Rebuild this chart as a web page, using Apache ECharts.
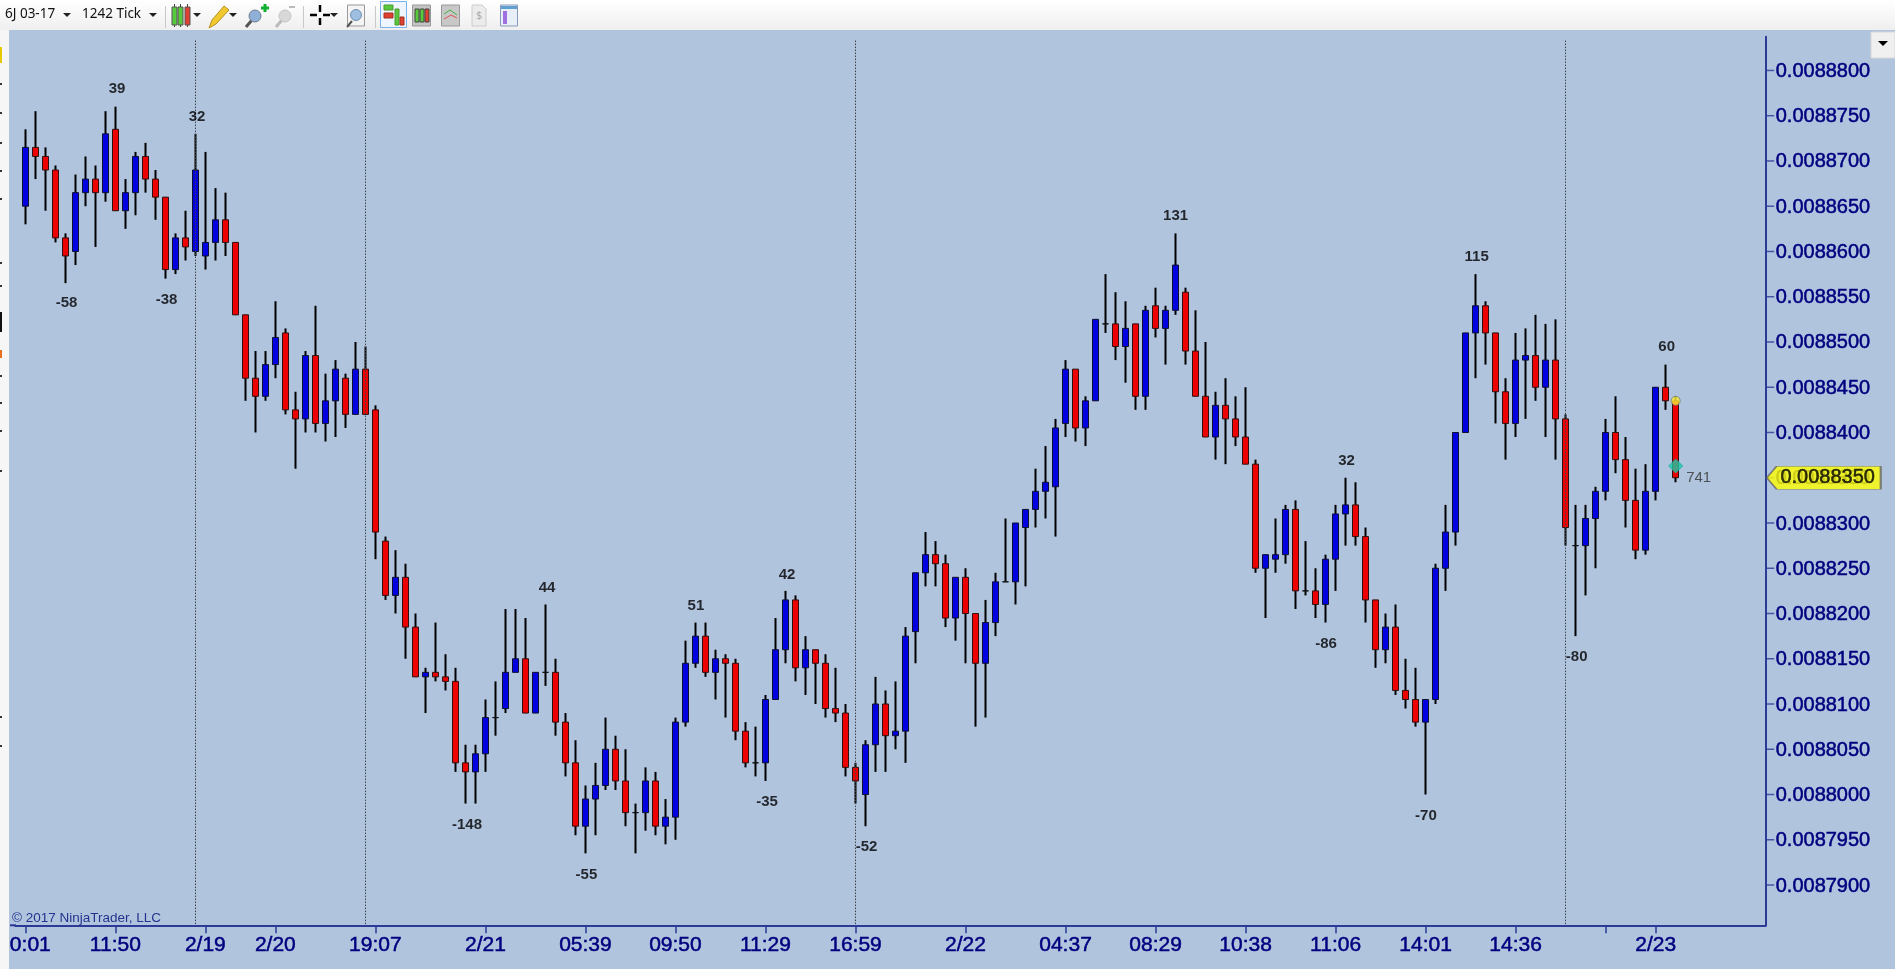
<!DOCTYPE html>
<html><head><meta charset="utf-8">
<style>html,body{margin:0;padding:0;background:#f6f6f6;overflow:hidden}#c{width:1895px;height:969px}</style>
<script src="https://cdn.jsdelivr.net/npm/echarts@6/dist/echarts.min.js"></script>
</head><body><div id="c"></div>
<script>
// Prices in units of 0.0000001 (88350 = 0.0088350)
const opens=[88650,88715,88705,88690,88615,88600,88665,88680,88665,88735,88645,88665,88705,88680,88660,88580,88615,88600,88595,88610,88635,88610,88530,88460,88440,88475,88510,88425,88415,88485,88410,88435,88460,88420,88470,88425,
88280,88220,88240,88185,88130,88135,88130,88125,88035,88025,88045,88085,88095,88135,88150,88090,88135,88135,88080,88035,87965,87995,88010,88050,88015,87980,
87980,88015,87965,87975,88080,88145,88175,88135,88150,88145,88070,88035,88035,88105,88160,88215,88140,88160,88145,88095,88090,88030,88000,88055,88100,88065,88070,88180,88245,88265,88255,88195,88240,88200,88145,88190,
88235,88235,88295,88315,88335,88340,88410,88470,88405,88435,88520,88520,88495,88520,88440,88540,88515,88535,88555,88490,88440,88395,88430,88415,88395,88365,88250,88260,88265,88315,88225,88225,88210,88260,88310,88320,88285,
88215,88160,88185,88115,88105,88080,88105,88250,88290,88400,88510,88540,88510,88445,88410,88480,88485,88450,88480,88415,88275,88275,88305,88335,88400,88370,88325,88270,88335,88450,88435];
const closes=[88715,88705,88690,88615,88595,88665,88680,88665,88730,88645,88665,88705,88680,88660,88580,88615,88605,88690,88610,88635,88610,88530,88460,88440,88475,88505,88425,88415,88485,88410,88435,88470,88420,88470,88420,88290,
88220,88240,88185,88130,88135,88130,88125,88035,88025,88045,88085,88085,88135,88150,88090,88135,88135,88080,88035,87965,87995,88010,88050,88015,87980,87980,
88015,87965,87975,88080,88145,88175,88135,88150,88145,88070,88035,88035,88105,88160,88215,88140,88160,88145,88095,88090,88030,88015,88055,88100,88065,88070,88175,88245,88265,88255,88195,88240,88200,88145,88190,88235,
88235,88300,88315,88335,88345,88405,88470,88405,88435,88525,88520,88495,88515,88440,88535,88515,88535,88585,88490,88440,88395,88430,88415,88395,88365,88250,88265,88265,88315,88225,88225,88210,88260,88310,88320,88285,88215,
88160,88185,88115,88105,88080,88105,88250,88290,88400,88510,88540,88510,88445,88410,88480,88485,88450,88480,88415,88295,88275,88305,88335,88400,88370,88325,88270,88335,88450,88435,88350];
const lows=[88630,88680,88645,88610,88565,88585,88650,88605,88655,88645,88625,88640,88665,88635,88570,88575,88590,88595,88580,88590,88595,88530,88435,88400,88435,88460,88420,88360,88400,88400,88390,88395,88405,88420,88420,88260,
88215,88200,88150,88130,88090,88125,88115,88025,87990,87990,88025,88065,88090,88135,88090,88090,88120,88065,88020,87955,87935,87955,88005,88005,87965,87935,
87960,87955,87945,87950,88075,88140,88130,88105,88085,88060,88030,88020,88015,88105,88145,88125,88110,88100,88085,88080,88020,87990,87965,88025,88025,88050,88035,88145,88230,88230,88185,88170,88145,88075,88085,88175,
88235,88210,88230,88295,88305,88285,88395,88390,88385,88435,88510,88480,88455,88425,88425,88505,88475,88530,88475,88440,88395,88370,88365,88385,88365,88245,88195,88245,88255,88205,88220,88195,88190,88225,88275,88275,88190,
88140,88145,88110,88095,88075,88000,88100,88225,88275,88400,88460,88475,88410,88370,88395,88415,88435,88395,88370,88275,88175,88220,88250,88325,88355,88295,88260,88265,88325,88425,88345];
const highs=[88735,88755,88715,88695,88620,88685,88705,88695,88755,88760,88680,88710,88720,88690,88660,88620,88645,88730,88710,88670,88665,88610,88530,88490,88490,88545,88515,88445,88490,88540,88465,88480,88465,88500,88495,88430,
88285,88270,88255,88200,88140,88190,88155,88140,88055,88055,88105,88125,88205,88205,88195,88135,88210,88150,88090,88060,88010,88035,88085,88065,88050,87990,
88030,88025,87995,88085,88170,88190,88190,88160,88155,88150,88080,88075,88110,88195,88225,88220,88175,88160,88155,88140,88100,88035,88060,88130,88115,88125,88185,88245,88290,88280,88265,88240,88250,88200,88215,88245,
88305,88300,88315,88360,88385,88415,88480,88470,88440,88525,88575,88555,88545,88520,88540,88560,88540,88620,88560,88535,88500,88445,88460,88440,88450,88370,88265,88305,88320,88325,88280,88250,88265,88320,88350,88345,88295,
88215,88200,88210,88150,88140,88105,88255,88320,88400,88510,88575,88545,88510,88460,88510,88515,88530,88520,88525,88420,88320,88320,88340,88415,88440,88395,88360,88365,88450,88475,88440];

const tickBars=[0,9,18,25,35,46,56,65,74,83,94,104,113,122,131,140,149,158,163];
const tickLabels=['0:01','11:50','2/19','2/20','19:07','2/21','05:39','09:50','11:29','16:59','2/22','04:37','08:29','10:38','11:06','14:01','14:36','','2/23'];
const priceTicks=[87900,87950,88000,88050,88100,88150,88200,88250,88300,88350,88400,88450,88500,88550,88600,88650,88700,88750,88800];
const sessionBars=[17,34,83,154];
const swingText=['39','32','-58','-38','-148','44','-55','51','42','-35','-52','131','32','115','-86','-80','60','-70'];
const swingBar=[9.17,17.17,4.12,14.12,44.16,52.16,56.1,67.05,76.15,74.15,84.1,115,132.1,145.1,130.05,155.1,164.1,140.03];
const swingPrice=[88781,88750,88544,88548,87968,88229,87912,88209,88244,87993,87943,88641,88370,88595,88168,88153,88496,87978];
const lastPrice=88350, lastVolume='741', entryPrice=88435, markPrice=88363;

const PRICE_MIN=87855.5, PRICE_MAX=88837.3, LINE_TOP=88833;
const N=opens.length, SLOTS=175;
const cats=[]; for(let s=0;s<=SLOTS;s++)cats.push(String(s));
const labelOf={}; tickBars.forEach((b,i)=>labelOf[b+1]=tickLabels[i]);
const tickSet=new Set(tickBars.map(b=>b+1));
const blank=['-','-','-','-'];
const wick=[blank],body=[blank];
for(let i=0;i<N;i++){
  wick.push([opens[i],closes[i],lows[i],highs[i]]);
  body.push([opens[i],closes[i],Math.min(opens[i],closes[i]),Math.max(opens[i],closes[i])]);
}
const fmt=v=>(v/1e7).toFixed(7);
const NAVY='#00007f', AX='#2a3a96';

// toolbar decoration
const g=[];
const R=(x,y,w,h,fill,stroke,extra)=>g.push(Object.assign({type:'rect',shape:{x,y,width:w,height:h},style:{fill,stroke:stroke||null,lineWidth:1},silent:true},extra||{}));
const P=(pts,fill,stroke)=>g.push({type:'polygon',shape:{points:pts},style:{fill,stroke:stroke||null,lineWidth:1},silent:true});
const L=(x1,y1,x2,y2,stroke,w)=>g.push({type:'line',shape:{x1,y1,x2,y2},style:{stroke,lineWidth:w||1},silent:true});
const C=(cx,cy,r,fill,stroke)=>g.push({type:'circle',shape:{cx,cy,r},style:{fill,stroke:stroke||null,lineWidth:1},silent:true});
const T=(x,y,text,size,fill,font)=>g.push({type:'text',x,y,style:{text,fontSize:size,fontFamily:font||'Noto Sans',fill,textVerticalAlign:'middle',textBaseline:'middle'},silent:true});
const tri=(x,y)=>P([[x-4,y-2],[x+4,y-2],[x,y+2]],'#222');
R(0,0,1895,30,{type:'linear',x:0,y:0,x2:0,y2:1,colorStops:[{offset:0,color:'#ffffff'},{offset:1,color:'#efefef'}]});
R(9,30,1886,939,'#b0c4de');
R(0,30,9,939,'#f6f6f6');
[83,112,142,170,198,262,285,350,375,402,430,470,716,745].forEach(y=>R(0,y,2,2,'#333'));
R(0,47,2,16,'#e8c800'); R(0,312,2,20,'#111'); R(0,350,2,8,'#e87020');
L(10,925.3,16,925.3,AX,2);
T(5,14,'6J 03-17',13.5,'#111'); T(82,14,'1242 Tick',13.5,'#111'); tri(67,15); tri(153,15);
L(165.5,6,165.5,28,'#c8c8c8');
[[172,'#58c83c'],[178,'#58c83c'],[185,'#e04030']].forEach(a=>{L(a[0]+2.5,4,a[0]+2.5,27,'#444');R(a[0],7,5,18,a[1],'#555');});
tri(197,15);
P([[209,28],[212,20],[224,6],[229,10],[216,24]],'#f0c830','#b89020'); tri(233,15);
L(246,27,252,20,'#555',3); C(255,16,6,'#8fb0d8','#708090');
L(265,4,265,12,'#10b030',3); L(261,8,269,8,'#10b030',3);
L(276,27,282,20,'#bbb',3); C(285,16,6,'#d8d8d8','#c4c4c4'); L(289,7,295,7,'#bbb',2);
L(303.5,6,303.5,28,'#c8c8c8');
L(310,15,317,15,'#000',2.5);L(323,15,330,15,'#000',2.5);L(320,5,320,12,'#000',2.5);L(320,18,320,25,'#000',2.5);tri(334,15);
R(347.5,5,17,21,'#f4f4f4','#999'); L(347,27,352,21,'#555',2); C(356,15,5.5,'#9fbfe0','#7090b0');
L(375.5,6,375.5,28,'#c8c8c8');
R(380.5,1.5,26,26,'#eef5fd','#7ab0ee');
R(384,5,9,5,'#58c83c','#4a9a30');R(384,13,9,5,'#e04030','#a03020');R(395,9,4,16,'#58c83c','#4a9a30');R(400,17,4,8,'#e04030','#a03020');
R(412.5,5,18,21,'#c4c4c4','#999');[[415,'#58c83c'],[420,'#58c83c'],[425,'#e04030']].forEach(a=>R(a[0],9,4,13,a[1],'#444'));
R(441.5,5,18,21,'#c8c8c8','#999');L(444,14,450,10,'#40b040');L(450,10,457,15,'#40b040');L(444,19,451,15,'#e05050');L(451,15,457,18,'#e05050');
P([[472,5],[482,5],[486,9],[486,26],[472,26]],'#ececec','#ccc');T(476,16,'$',11,'#aaa');
R(500.5,5,17,21,'#e8eef6','#8899bb');R(501,6,16,3,'#60a0d0');R(503,11,4,13,'#a070e0');
R(1871,32,24,26,'#f0f0f0','#d8d8d8');P([[1878,41],[1888,41],[1883,46]],'#000');
T(12,918,'\u00a9 2017 NinjaTrader, LLC',13.5,'#24348e','Liberation Sans');

const xFont={color:NAVY,fontFamily:'Liberation Sans',fontSize:21,textBorderColor:NAVY,textBorderWidth:0.5};
const yFont={color:NAVY,fontFamily:'Liberation Sans',fontSize:20,textBorderColor:NAVY,textBorderWidth:0.5};
const option={
 animation:false,
 graphic:{elements:g},
 grid:{left:15.3,right:129.3,top:36.7,bottom:43.7,containLabel:false},
 xAxis:[{type:'category',data:cats,boundaryGap:false,position:'bottom',
   axisLine:{onZero:false,lineStyle:{color:AX,width:2}},
   axisTick:{interval:i=>tickSet.has(i),length:8,lineStyle:{color:AX,width:1.5}},
   axisLabel:Object.assign({interval:i=>tickSet.has(i),
     formatter:v=>v==='1'?'{first|'+labelOf[v]+'}':(labelOf[v]||''),
     rich:{first:Object.assign({padding:[0,0,0,10]},xFont)},margin:9,hideOverlap:false},xFont),
   splitLine:{show:false}},
  {type:'value',min:0,max:SLOTS,show:false,splitLine:{show:false}}],
 yAxis:{type:'value',position:'right',min:PRICE_MIN,max:PRICE_MAX,scale:true,
   axisLine:{show:true,onZero:false,lineStyle:{color:AX,width:2}},
   axisTick:{show:false},
   axisLabel:Object.assign({customValues:priceTicks,formatter:v=>'{p|'+fmt(v)+'}',margin:10,
     rich:{p:Object.assign({padding:[2,0,0,0]},yFont)}},yFont),
   splitLine:{show:false}},
 series:[
  {name:'priceTicks',type:'scatter',xAxisIndex:1,z:2,clip:false,symbol:'rect',symbolSize:[8,1.5],
   data:priceTicks.map(p=>[SLOTS+0.45,p]),itemStyle:{color:AX}},
  {name:'wick',type:'candlestick',data:wick,barWidth:0.5,clip:false,z:3,
   itemStyle:{color:'#000',color0:'#000',borderColor:'#000',borderColor0:'#000',borderColorDoji:'#000',borderWidth:2}},
  {name:'body',type:'candlestick',data:body,barWidth:6,clip:false,z:4,
   itemStyle:{color:'#0000e0',color0:'#ee0000',borderColor:'#101030',borderColor0:'#301010',borderColorDoji:'#111',borderWidth:1}},
  {name:'swings',type:'scatter',xAxisIndex:1,symbolSize:0,z:5,clip:false,
   data:swingText.map((t,i)=>({value:[swingBar[i]+1,swingPrice[i]],label:{formatter:t}})),
   label:{show:true,position:'inside',offset:[0,1],color:'#000',fontFamily:'Liberation Sans',fontSize:15,fontWeight:'bold'},
   markLine:{silent:true,symbol:'none',label:{show:false},animation:false,
     lineStyle:{color:'#3c4048',type:[1.5,1.5],width:1},
     data:sessionBars.map(b=>[{coord:[b+1,LINE_TOP]},{coord:[b+1,PRICE_MIN]}])}},
  {name:'volume',type:'scatter',xAxisIndex:1,symbolSize:0,z:5,clip:false,
   data:[{value:[168.3,lastPrice],label:{formatter:lastVolume}}],
   label:{show:true,position:'inside',color:'#333',fontFamily:'Liberation Sans',fontSize:15}},
  {name:'entry',type:'scatter',xAxisIndex:1,z:6,clip:false,symbol:'circle',symbolSize:9,
   data:[[N,entryPrice]],itemStyle:{color:'#ffee33',borderColor:'#777',borderWidth:1}},
  {name:'mark',type:'scatter',xAxisIndex:1,z:6,clip:false,symbol:'diamond',symbolSize:14,
   data:[[N,markPrice]],itemStyle:{color:'#19cba5',borderColor:'#2aa',borderWidth:1}},
  {name:'last',type:'scatter',xAxisIndex:1,z:7,clip:false,
   symbol:'path://M0 12 L10 0 L115 0 L115 24 L10 24 Z',symbolSize:[114,23],symbolKeepAspect:false,
   data:[[180.8,lastPrice]],itemStyle:{color:'#ffff00',borderColor:'#666',borderWidth:1},
   label:{show:true,position:'inside',offset:[4,0],formatter:()=>fmt(lastPrice),color:'#000',fontFamily:'Liberation Sans',fontSize:20,textBorderColor:'#000',textBorderWidth:0.5}}
 ]
};
echarts.init(document.getElementById('c')).setOption(option);
</script></body></html>
